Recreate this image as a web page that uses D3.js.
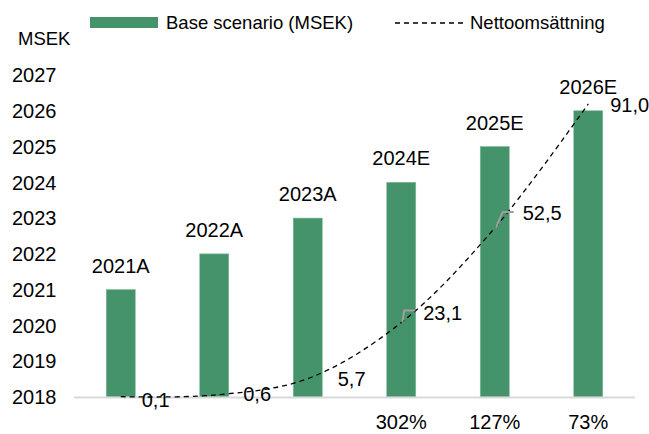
<!DOCTYPE html>
<html>
<head>
<meta charset="utf-8">
<script src="https://cdn.jsdelivr.net/npm/d3@7"></script>
<style>
  body { margin: 0; background: #fff; }
  text { font-family: "Liberation Sans Narrow", "Arial Narrow", "Liberation Sans", sans-serif; fill: #000; }
</style>
</head>
<body>
<svg id="chart" width="649" height="434"></svg>
<script>
const categories = ['2021A', '2022A', '2023A', '2024E', '2025E', '2026E']
const baseScenario = [2021, 2022, 2023, 2024, 2025, 2026]
const netSales = [0.1, 0.6, 5.7, 23.1, 52.5, 91.0]
const netLabels = ['0,1', '0,6', '5,7', '23,1', '52,5', '91,0']
const growth = ['', '', '', '302%', '127%', '73%']
const yTicks = d3.range(2018, 2028)

const width = 649
const height = 434
const margin = { top: 75, right: 14, bottom: 37, left: 74 }

const svg = d3.select('#chart')
const green = '#45936a'
const fs = 20

const x = d3.scaleBand()
  .domain(categories)
  .range([margin.left, width - margin.right])
  .paddingInner(0.69)
  .paddingOuter(0.345)

const y = d3.scaleLinear()
  .domain([2018, 2027])
  .range([height - margin.bottom, margin.top])

const y2 = d3.scaleLinear()
  .domain([0, 100])
  .range([height - margin.bottom, margin.top])

const cx = (d) => x(d) + x.bandwidth() / 2

// y axis labels, no line
svg.append('g')
  .selectAll('text')
  .data(yTicks)
  .join('text')
  .attr('x', 12)
  .attr('y', (d) => y(d))
  .attr('dy', '0.36em')
  .attr('font-size', fs)
  .text((d) => d)

svg.append('text')
  .attr('x', 18)
  .attr('y', 38)
  .attr('dy', '0.36em')
  .attr('font-size', 18.5)
  .text('MSEK')

// bars
svg.append('g')
  .selectAll('rect')
  .data(categories)
  .join('rect')
  .attr('x', (d) => x(d))
  .attr('y', (d, i) => y(baseScenario[i]))
  .attr('width', x.bandwidth())
  .attr('height', (d, i) => y(2018) - y(baseScenario[i]))
  .attr('fill', green)
  .attr('stroke', '#7fb796')
  .attr('stroke-width', 0.6)

// baseline
svg.append('line')
  .attr('x1', margin.left)
  .attr('x2', width - margin.right)
  .attr('y1', y(2018) + 0.5)
  .attr('y2', y(2018) + 0.5)
  .attr('stroke', '#d9d9d9')
  .attr('stroke-width', 2)

// category labels above bars
svg.append('g')
  .selectAll('text')
  .data(categories)
  .join('text')
  .attr('x', cx)
  .attr('y', (d, i) => y(baseScenario[i]) - 17)
  .attr('text-anchor', 'middle')
  .attr('font-size', fs)
  .text((d) => d)

// net sales line
const line = d3.line()
  .x((d, i) => cx(categories[i]))
  .y((d) => y2(d))
  .curve(d3.curveCatmullRom.alpha(0.5))

svg.append('path')
  .datum(netSales)
  .attr('d', line)
  .attr('fill', 'none')
  .attr('stroke', '#000')
  .attr('stroke-width', 1.3)
  .attr('stroke-dasharray', '5,4')

// value labels with small offsets like the source
const offsets = [[21, 3], [29, -1], [30, 0], [22, -10], [28, -15], [22, 1]]

// leader lines for the two middle estimates: [slant, rise]
const leaders = [[3, 2, 12], [4, 7, 16]]
svg.append('g')
  .selectAll('path')
  .data(leaders)
  .join('path')
  .attr('d', ([i, dx, dy]) => {
    const px = cx(categories[i]) + 1
    const py = y2(netSales[i])
    return `M${px},${py}L${px + dx},${py - dy}L${px + dx + 11},${py - dy}`
  })
  .attr('fill', 'none')
  .attr('stroke', '#a0a0a0')
  .attr('stroke-width', 2)

svg.append('g')
  .selectAll('text')
  .data(netLabels)
  .join('text')
  .attr('x', (d, i) => cx(categories[i]) + offsets[i][0])
  .attr('y', (d, i) => y2(netSales[i]) + offsets[i][1])
  .attr('dy', '0.36em')
  .attr('font-size', fs)
  .text((d) => d)

// growth row
svg.append('g')
  .selectAll('text')
  .data(growth)
  .join('text')
  .attr('x', (d, i) => cx(categories[i]))
  .attr('y', 422)
  .attr('dy', '0.36em')
  .attr('text-anchor', 'middle')
  .attr('font-size', fs)
  .text((d) => d)

// legend
const legend = svg.append('g')
legend.append('rect')
  .attr('x', 90).attr('y', 17).attr('width', 68).attr('height', 11)
  .attr('fill', green)
legend.append('text')
  .attr('x', 166).attr('y', 22).attr('dy', '0.36em')
  .attr('font-size', 18.5)
  .text('Base scenario (MSEK)')
legend.append('line')
  .attr('x1', 395).attr('x2', 465).attr('y1', 23).attr('y2', 23)
  .attr('stroke', '#000').attr('stroke-width', 1.3)
  .attr('stroke-dasharray', '5,4')
legend.append('text')
  .attr('x', 470).attr('y', 22).attr('dy', '0.36em')
  .attr('font-size', 18.5)
  .text('Nettoomsättning')
</script>
</body>
</html>
